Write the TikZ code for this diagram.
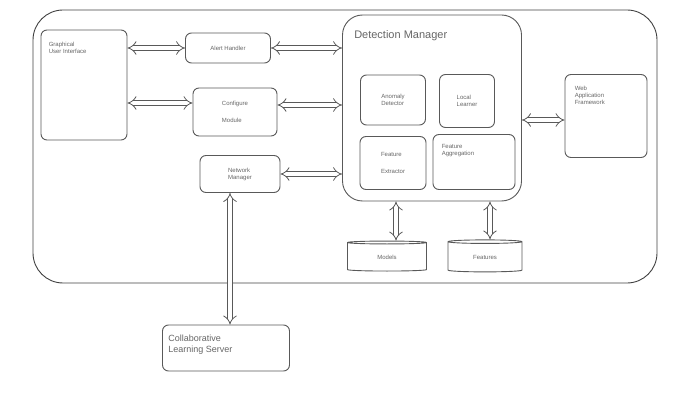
\documentclass[tikz,border=0pt]{standalone}
\usepackage{fontspec}
\setmainfont{Liberation Sans}
\usetikzlibrary{arrows.meta,shapes.geometric}
\tikzset{
  box/.style={draw=black!65, line width=0.9pt, rounded corners=6pt, fill=white,
    text=black!60, font=\fontsize{6}{7}\selectfont, align=left, inner sep=0pt},
  inlabel/.style={anchor=north west, inner sep=0pt, text=black!60,
    font=\fontsize{6}{7}\selectfont, align=left},
  store/.style={draw=black!65, line width=0.9pt, fill=white, cylinder,
    shape border rotate=90, aspect=0.15, text=black!60,
    font=\fontsize{6}{7}\selectfont, inner sep=0pt},
  link/.style={draw=black!65, double=white, double distance=4pt, line width=0.8pt,
    {Implies}-{Implies}}
}
\begin{document}
\begin{tikzpicture}[x=1pt,y=-1pt]
  \useasboundingbox (0,0) rectangle (677,406);
  \draw[black!75, line width=0.9pt, rounded corners=30pt] (33,10) rectangle (657,283);
  \node[box, minimum width=86, minimum height=110,
    label={[inlabel, xshift=8, yshift=-12]north west:Graphical\\User Interface}] (gui) at (84,85) {};
  \node[box, minimum width=85, minimum height=30] (alert) at (228,48) {Alert Handler};
  \node[box, minimum width=84, minimum height=48] (config) at (235,112) {Configure\\[10pt]Module};
  \node[box, minimum width=80, minimum height=37] (network) at (240,174) {Network\\Manager};
  \node[box, minimum width=179, minimum height=186, rounded corners=20pt,
    label={[inlabel, font=\fontsize{11}{13}\selectfont, xshift=12, yshift=-16]north west:Detection Manager}] (dm) at (432,108) {};
  \node[box, minimum width=65, minimum height=50] (anomaly) at (393,100) {Anomaly\\Detector};
  \node[box, minimum width=55, minimum height=53] (local) at (467,101) {Local\\Learner};
  \node[box, minimum width=66, minimum height=53] (extractor) at (393,163) {Feature\\[10pt]Extractor};
  \node[box, minimum width=82, minimum height=55,
    label={[inlabel, xshift=9, yshift=-10]north west:Feature\\Aggregation}] (aggregation) at (474,162) {};
  \node[store, minimum width=79, minimum height=30] (models) at (387,257) {Models};
  \node[store, minimum width=74, minimum height=32] (features) at (485,257) {Features};
  \node[box, minimum width=82, minimum height=83,
    label={[inlabel, xshift=10, yshift=-12]north west:Web\\Application\\Framework}] (web) at (606,116) {};
  \node[box, minimum width=127, minimum height=46, font=\fontsize{9}{11}\selectfont,
    label={[inlabel, font=\fontsize{9}{11}\selectfont, xshift=6, yshift=-10]north west:Collaborative\\Learning Server}] (cls) at (226,348) {};
  \coordinate (g2) at ([yshift=9pt]config.west);
  \coordinate (c2) at ([yshift=7pt]config.east);
  \coordinate (w1) at ([yshift=-4pt]web.west);
  \draw[link] (gui.east |- alert.west) -- (alert.west);
  \draw[link] (gui.east |- g2) -- (g2);
  \draw[link] (alert.east) -- (dm.west |- alert.east);
  \draw[link] (c2) -- (dm.west |- c2);
  \draw[link] (network.east) -- (dm.west |- network.east);
  \draw[link] (dm.east |- w1) -- (w1);
  \draw[link] (models.north -| 396,0) -- (dm.south -| 396,0);
  \draw[link] (features.north -| 490,0) -- (dm.south -| 490,0);
  \draw[link] (network.south -| 230,0) -- (cls.north -| 230,0);
\end{tikzpicture}
\end{document}
